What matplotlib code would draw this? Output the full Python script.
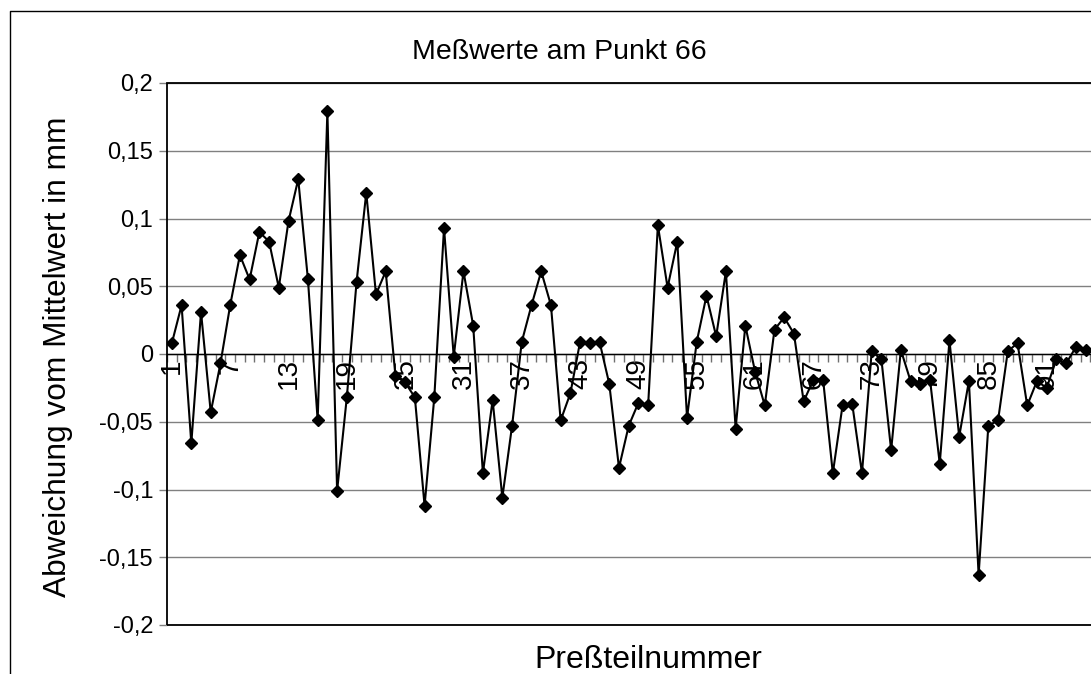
import numpy as np
import matplotlib
matplotlib.use("Agg")
import matplotlib.pyplot as plt
from matplotlib.lines import Line2D
from matplotlib.patches import Rectangle

plt.rcParams['font.family'] = ['Liberation Sans', 'DejaVu Sans']

# --- data -------------------------------------------------------------
title = "Meßwerte am Punkt 66"
x_title = "Preßteilnummer"
y_title = "Abweichung vom Mittelwert in mm"

# deviation from the mean (mm) for pressed parts 1..95
deviations = [
    0.008, 0.036, -0.066, 0.031, -0.043, -0.007, 0.036, 0.073, 0.055, 0.090,
    0.083, 0.049, 0.098, 0.129, 0.055, -0.049, 0.179, -0.101, -0.032, 0.053,
    0.119, 0.044, 0.061, -0.016, -0.021, -0.032, -0.112, -0.032, 0.093, -0.002,
    0.061, 0.021, -0.088, -0.034, -0.106, -0.053, 0.009, 0.036, 0.061, 0.036,
    -0.049, -0.029, 0.009, 0.008, 0.009, -0.022, -0.084, -0.053, -0.036, -0.038,
    0.095, 0.049, 0.083, -0.047, 0.009, 0.043, 0.013, 0.061, -0.055, 0.021,
    -0.013, -0.038, 0.018, 0.027, 0.015, -0.035, -0.019, -0.019, -0.088, -0.038,
    -0.037, -0.088, 0.002, -0.004, -0.071, 0.003, -0.020, -0.022, -0.019, -0.081,
    0.010, -0.061, -0.020, -0.163, -0.053, -0.049, 0.002, 0.008, -0.038, -0.020,
    -0.025, -0.004, -0.007, 0.005, 0.003,
]
n_categories = 99
x_label_step = 6
y_ticks = [-0.2, -0.15, -0.1, -0.05, 0.0, 0.05, 0.1, 0.15, 0.2]
y_tick_labels = ["-0,2", "-0,15", "-0,1", "-0,05", "0", "0,05", "0,1", "0,15", "0,2"]

# --- layout (pixels) --------------------------------------------------
W, H = 1091, 674
fig = plt.figure(figsize=(W / 100, H / 100), dpi=100)
fig.patch.set_facecolor("white")

# chart-area border
fig.add_artist(Line2D([10 / W, 10 / W, 1.0], [0.0, 1 - 11 / H, 1 - 11 / H],
                      transform=fig.transFigure, color="black", lw=1.0))

left_px, top_px, bottom_px = 167, 83, 625
cat_px = 9.72
ax = fig.add_axes([left_px / W, 1 - bottom_px / H,
                   n_categories * cat_px / W, (bottom_px - top_px) / H])

x = np.arange(1, len(deviations) + 1)
ax.plot(x, deviations, color="black", lw=1.5, marker="D", ms=6.4,
        markerfacecolor="black", markeredgecolor="black", zorder=4)

ax.set_xlim(0.5, n_categories + 0.5)
ax.set_ylim(-0.2, 0.2)

# horizontal gridlines
ax.yaxis.grid(True, color="#808080", lw=1.0)
ax.set_axisbelow(True)

# plot-area frame
for side in ("top", "right", "left"):
    ax.spines[side].set_visible(False)
ax.add_patch(Rectangle((0, 0), 1, 1, transform=ax.transAxes, fill=False,
                       edgecolor="black", lw=1.3, zorder=5, clip_on=False))

# category axis crossing at zero
ax.spines["bottom"].set_position(("data", 0))
ax.spines["bottom"].set_color("black")
ax.spines["bottom"].set_linewidth(1.0)
major = np.arange(1, len(deviations) + 1, x_label_step)
ax.set_xticks(major, [str(v) for v in major])
ax.set_xticks(np.arange(0.5, n_categories + 1, 1.0), minor=True)
ax.tick_params(axis="x", which="major", length=0, labelsize=20,
               labelrotation=90, pad=3)
ax.tick_params(axis="x", which="minor", length=6, width=1.0,
               color="#707070", direction="out")

ax.set_yticks(y_ticks, y_tick_labels)
ax.tick_params(axis="y", direction="out", length=6, width=1.0,
               color="#808080", labelsize=17, pad=4)

fig.text(559 / W, 1 - 52 / H, title, ha="center", va="center", fontsize=20.5)
fig.text(58 / W, 1 - 357 / H, y_title, ha="center", va="center",
         rotation=90, fontsize=22.8)
fig.text((left_px + n_categories * cat_px / 2) / W, 1 - 660 / H, x_title,
         ha="center", va="center", fontsize=23)

fig.savefig("out.png", dpi=100)
